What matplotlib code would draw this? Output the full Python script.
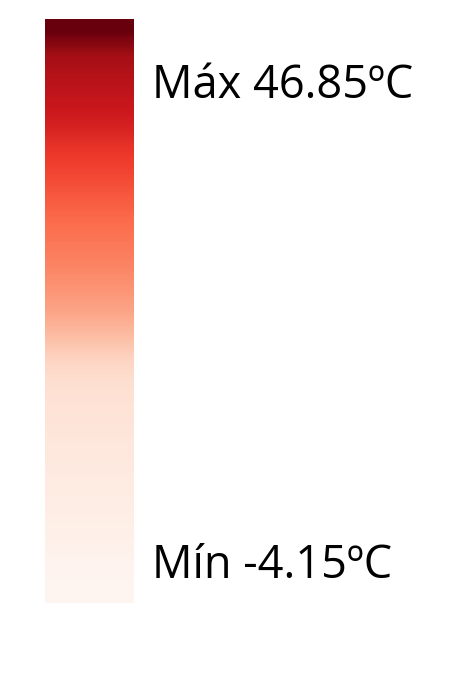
import numpy as np
import matplotlib
matplotlib.use("Agg")
import matplotlib.pyplot as plt

# Colour-scale stops (Reds colormap position), from the minimum (bottom) to the maximum (top)
scale_stops = [0.0, 0.01, 0.025, 0.04, 0.05, 0.065, 0.08, 0.095, 0.11, 0.13,
               0.17, 0.25, 0.32, 0.37, 0.42, 0.46, 0.5, 0.55, 0.6, 0.65,
               0.72, 0.77, 0.82, 0.88, 1.0]
max_label = "Máx 46.85ºC"
min_label = "Mín -4.15ºC"

W, H = 460, 689
fig = plt.figure(figsize=(W / 100, H / 100), dpi=100)
fig.patch.set_facecolor("white")

ax = fig.add_axes([45 / W, (H - 603) / H, 89 / W, 584 / H])
img = np.array(scale_stops)[:, None]
ax.imshow(img, cmap="Reds", vmin=0, vmax=1, aspect="auto", origin="lower",
          interpolation="bilinear", extent=[0, 1, 0, 1])
ax.set_xlim(0, 1)
ax.set_ylim(0, 1)
ax.axis("off")

font = dict(family=["Open Sans", "DejaVu Sans"], fontsize=32.5, color="#000000")
fig.text(152 / W, (H - 98) / H, max_label, ha="left", va="baseline", **font)
fig.text(152 / W, (H - 578) / H, min_label, ha="left", va="baseline", **font)

fig.savefig("out.png", dpi=100, facecolor="white")
